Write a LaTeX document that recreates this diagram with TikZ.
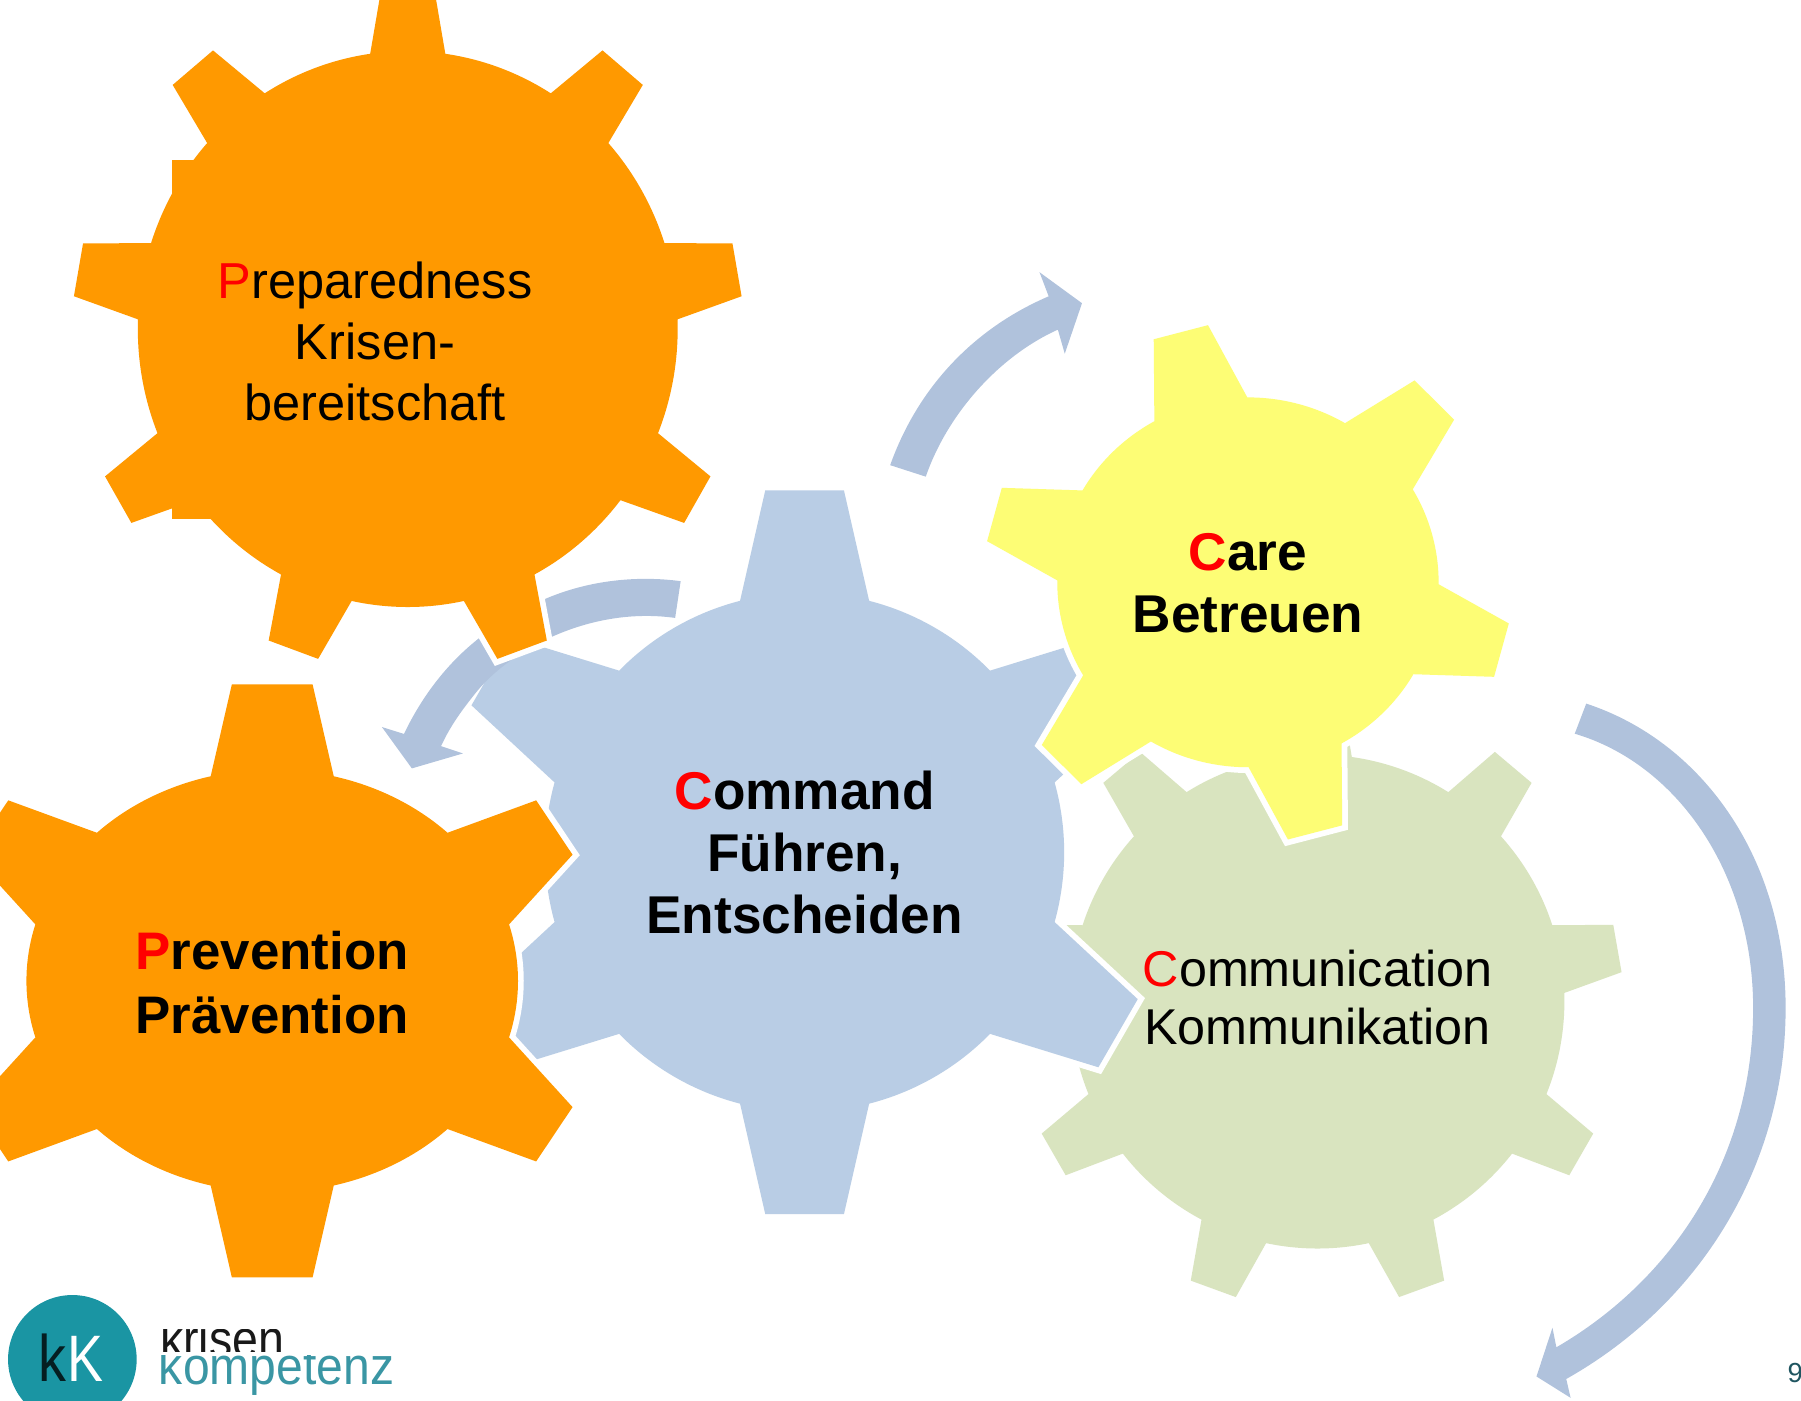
\documentclass[tikz,border=0pt]{standalone}
\usepackage{fontspec}
\setmainfont{Liberation Sans}
\definecolor{orangeG}{HTML}{FF9900}
\definecolor{blueG}{HTML}{B9CDE5}
\definecolor{yellowG}{HTML}{FDFD75}
\definecolor{greenG}{HTML}{D9E4BF}
\definecolor{arrowB}{HTML}{B0C2DC}
\definecolor{tealL}{HTML}{1A95A3}
\definecolor{tealT}{HTML}{3A96A4}
\definecolor{pageN}{HTML}{1F5560}
\newcommand\R[1]{\textcolor{red}{#1}}
% centre x, centre y (from the top), body rx, ry, tip Rx, Ry, teeth, first tooth angle, root half angle; \GT tip half angle; colour via \GC
\newcommand\gearshape[9]{%
  \begin{scope}[shift={(#1,1219-#2)}]
    \pgfmathsetmacro\st{360/#7}
    \pgfmathtruncatemacro\lastT{#7-1}
    \path[gearstyle=\GC] ({#8-#9}:#3 and #4)
      foreach \i in {0,...,\lastT} {
        -- ({#8+\i*\st-\GT}:#5 and #6)
        -- ({#8+\i*\st+\GT}:#5 and #6)
        -- ({#8+\i*\st+#9}:#3 and #4)
        arc[start angle={#8+\i*\st+#9}, end angle={#8+(\i+1)*\st-#9}, x radius=#3, y radius=#4]
      } -- cycle;
  \end{scope}}
\tikzset{
  gearstyle/.style={fill=#1, preaction={draw=white, line width=5pt, line join=miter}},
  bandarrow/.style={fill=arrowB},
  lightlabel/.style={font=\fontsize{22}{26.5}\selectfont, align=center, text=black, inner sep=0pt},
  commlabel/.style={font=\fontsize{21.9}{25.3}\selectfont, align=center, text=black, inner sep=0pt},
  boldlabel/.style={font=\bfseries\fontsize{23.15}{26.9}\selectfont, align=center, text=black, inner sep=0pt},
  preventlabel/.style={font=\bfseries\fontsize{23}{27.7}\selectfont, align=center, text=black, inner sep=0pt},
}
\begin{document}
\begin{tikzpicture}[x=0.5pt,y=0.5pt]
\useasboundingbox (0,0) rectangle (1568,1219);
\clip (0,0) rectangle (1568,1219);

% green gear
\def\GC{greenG}\def\GT{4.5}
\gearshape{1147}{872}{215}{215}{266}{267}{9}{10}{8}

% blue gear
\def\GC{blueG}\def\GT{6.2}
\gearshape{700.5}{742}{226}{226}{317}{317}{6}{30}{14.4}

% arrows
\begin{scope}[shift={(0,1219)},yscale=-1]
\fill[bandarrow] (775,405) .. controls (800,335) and (850,285) .. (913,258)
  -- (905,237) -- (942,264) -- (927,308) -- (921,287)
  .. controls (870,310) and (825,360) .. (806,415) -- cycle;
\fill[bandarrow] (592.6,506) .. controls (555,501) and (513,505) .. (474.5,521.5)
  .. controls (454,530) and (436,541) .. (417,555.7)
  .. controls (390,577) and (368,605) .. (351.7,639)
  -- (332.5,633) -- (358.6,669) -- (403,656) -- (384,649.6)
  .. controls (392,632) and (403,617) .. (416,601)
  .. controls (432,582) and (455,566) .. (480.5,554.4)
  .. controls (515,539) and (552,533) .. (587.8,538) -- cycle;
\fill[bandarrow] (1381,612.6) .. controls (1480,645) and (1554.6,745) .. (1554.6,877.6)
  .. controls (1554.6,1015) and (1480,1135) .. (1363.6,1200.6)
  -- (1367.4,1217) -- (1337.7,1198.4) -- (1351.6,1156) -- (1355,1173)
  .. controls (1455,1115) and (1526.3,1010) .. (1526.3,877.6)
  .. controls (1526.3,760) and (1460,665) .. (1371,638.8) -- cycle;
\end{scope}

% preparedness gear with its stray rectangle
\def\GC{orangeG}\def\GT{4.5}
\gearshape{355}{286.5}{235}{242}{292}{298}{9}{10}{8}
\fill[orangeG] (150,1219-139) rectangle (300,1219-452);

% prevention gear: side teeth are squeezed, so each tooth has its own angles
\begin{scope}[shift={(237,1219-854)}]
\path[gearstyle=orangeG] (15.5:214 and 184)
  foreach \ra/\ta/\tb/\rb/\na in {
    15.5/25/37.2/44.5/75.5,
    75.5/83/97/104.5/135.5,
    135.5/142.8/155/164.5/195.5,
    195.5/205/217.2/224.5/255.5,
    255.5/263/277/284.5/315.5,
    315.5/322.8/335/344.5/375.5} {
    -- (\ta:288.5 and 260) -- (\tb:288.5 and 260) -- (\rb:214 and 184)
    arc[start angle=\rb, end angle=\na, x radius=214, y radius=184]
  } -- cycle;
\end{scope}

% yellow gear
\def\GC{yellowG}\def\GT{6.1}
\gearshape{1086.5}{507}{166}{161}{230}{226.5}{6}{44.8}{14.6}

% labels
\begin{scope}[shift={(0,1219)},yscale=-1]
\node[lightlabel] (prep) at (326.5,297) {\R{P}reparedness\\Krisen-\\bereitschaft};
\node[preventlabel] (prev) at (237,855.5) {\R{P}revention\\Prävention};
\node[boldlabel] (cmd) at (700.5,742) {\R{C}ommand\\Führen,\\Entscheiden};
\node[boldlabel] (care) at (1086.5,507.5) {\R{C}are\\Betreuen};
\node[commlabel] (comm) at (1147,868.5) {\R{C}ommunication\\Kommunikation};
\node[anchor=base west, inner sep=0pt, text=pageN, font=\fontsize{12}{14}\selectfont] (page) at (1556,1204) {9};

% logo
\fill[tealL] (63,1183.5) circle[radius=56];
\node[anchor=base west, inner sep=0pt, text=black!80!tealL, font=\fontsize{28.6}{30}\selectfont] (lk) at (33,1202.5) {\scalebox{.85}[1]{k}};
\node[anchor=base west, inner sep=0pt, text=white, font=\fontsize{28.6}{30}\selectfont] (lK) at (58,1202.5) {\scalebox{.82}[1]{K}};
\begin{scope}
\clip (130,1157.5) rectangle (360,1177);
\node[anchor=base west, inner sep=0pt, text=black!90, font=\fontsize{23}{25}\selectfont] (kr) at (139,1182) {\scalebox{.88}[1]{krisen}};
\end{scope}
\begin{scope}
\clip (130,1180.5) rectangle (360,1219);
\node[anchor=base west, inner sep=0pt, text=tealT, font=\fontsize{23}{25}\selectfont] (ko) at (138,1205) {\scalebox{.91}[1]{kompetenz}};
\end{scope}
\end{scope}
\end{tikzpicture}
\end{document}
